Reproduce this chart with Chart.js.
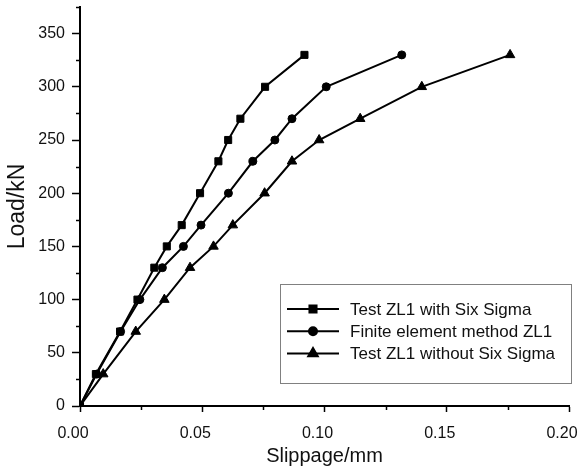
<!DOCTYPE html>
<html>
<head>
<meta charset="utf-8">
<title>Load vs slippage</title>
<script src="https://cdn.jsdelivr.net/npm/chart.js@4.4.0/dist/chart.umd.min.js"></script>
<style>
    html, body { margin: 0; padding: 0; background: #fff; }
    #chart { display: block; }
</style>
</head>
<body>
<canvas id="chart" width="579" height="470"></canvas>
<script>
// load levels (kN), shared by the three curves
const loads = [0, 30, 70, 100, 130, 150, 170, 200, 230, 250, 270, 300, 330];

// slippage (mm)
const slipWithSixSigma = [0, 0.0065, 0.0164, 0.0235, 0.0304, 0.0355, 0.0416, 0.0491, 0.0566, 0.0606, 0.0656, 0.0757, 0.0918];
const slipFiniteElement = [0, 0.0068, 0.0166, 0.0245, 0.0337, 0.0423, 0.0495, 0.0607, 0.0707, 0.0797, 0.0867, 0.1007, 0.1316];
const slipWithoutSixSigma = [0, 0.0095, 0.0228, 0.0345, 0.0450, 0.0546, 0.0625, 0.0755, 0.0867, 0.0978, 0.1146, 0.1398, 0.1759];

const seriesNames = ["Test ZL1 with Six Sigma", "Finite element method ZL1", "Test ZL1 without Six Sigma"];

const xTickLabels = ["0.00", "0.05", "0.10", "0.15", "0.20"];
const yTickLabels = ["0", "50", "100", "150", "200", "250", "300", "350"];

const FONT = "'Liberation Sans', Arial, sans-serif";
const INK = "#111";

function toPoints(xs, ys) {
    let pts = [];
    for (let i = 0; i < xs.length; i++)
        pts.push({ x: xs[i], y: ys[i] });
    return pts;
}

function makeSet(label, xs, style, radius) {
    return {
        label: label,
        data: toPoints(xs, loads),
        showLine: true,
        borderColor: "#000",
        borderWidth: 2,
        backgroundColor: "#000",
        pointStyle: style,
        pointRadius: radius,
        pointBorderWidth: 1,
        pointBackgroundColor: "#000",
        pointBorderColor: "#000",
        tension: 0
    };
}

// short minor ticks between the labelled ones
const minorTicks = {
    id: "minorTicks",
    afterDraw(chart) {
        const ctx = chart.ctx;
        ctx.save();
        ctx.strokeStyle = "#000";
        ctx.lineWidth = 1.5;
        const xs = chart.scales.x;
        xs.ticks.forEach((t) => {
            if (Math.round(t.value / 0.025) % 2 === 0) return;
            const px = Math.round(xs.getPixelForValue(t.value)) + 0.5;
            ctx.beginPath();
            ctx.moveTo(px, chart.chartArea.bottom);
            ctx.lineTo(px, chart.chartArea.bottom + 4);
            ctx.stroke();
        });
        const ys = chart.scales.y;
        ys.ticks.forEach((t) => {
            if (Math.round(t.value) % 50 === 0) return;
            const py = Math.round(ys.getPixelForValue(t.value)) + 0.5;
            ctx.beginPath();
            ctx.moveTo(chart.chartArea.left, py);
            ctx.lineTo(chart.chartArea.left - 4, py);
            ctx.stroke();
        });
        ctx.restore();
    }
};

// boxed legend in the lower right, line with marker in the middle
const boxLegend = {
    id: "boxLegend",
    afterDraw(chart) {
        const ctx = chart.ctx;
        const box = { left: 280, top: 284, right: 571, bottom: 383 };
        ctx.save();
        ctx.fillStyle = "#fff";
        ctx.fillRect(box.left, box.top, box.right - box.left, box.bottom - box.top);
        ctx.strokeStyle = "#808080";
        ctx.lineWidth = 1;
        ctx.strokeRect(box.left + 0.5, box.top + 0.5, box.right - box.left, box.bottom - box.top);

        ctx.font = "17px " + FONT;
        ctx.textBaseline = "middle";
        ctx.textAlign = "left";

        chart.data.datasets.forEach((ds, i) => {
            const y = 309 + i * 22.2;
            ctx.strokeStyle = "#000";
            ctx.lineWidth = 2;
            ctx.beginPath();
            ctx.moveTo(287, y);
            ctx.lineTo(339, y);
            ctx.stroke();

            ctx.fillStyle = "#000";
            Chart.helpers.drawPoint(ctx, {
                pointStyle: ds.pointStyle,
                radius: ds.pointRadius,
                borderWidth: 1,
                rotation: 0
            }, 313, y);

            ctx.fillStyle = INK;
            ctx.fillText(ds.label, 350, y + 1);
        });
        ctx.restore();
    }
};

new Chart(document.getElementById("chart"), {
    type: "scatter",
    data: {
        datasets: [
            makeSet(seriesNames[0], slipWithSixSigma, "rect", 5),
            makeSet(seriesNames[1], slipFiniteElement, "circle", 4),
            makeSet(seriesNames[2], slipWithoutSixSigma, "triangle", 5.5)
        ]
    },
    options: {
        responsive: false,
        animation: false,
        layout: { padding: { top: 7, right: 10, left: 0, bottom: 0 } },
        plugins: {
            legend: { display: false },
            tooltip: { enabled: false }
        },
        scales: {
            x: {
                type: "linear",
                min: 0,
                max: 0.2,
                afterFit(scale) {
                    scale.height = 64;
                    scale.paddingLeft = 0;
                    scale.paddingRight = 0;
                },
                border: { display: true, color: "#000", width: 2 },
                grid: {
                    drawOnChartArea: false,
                    tickLength: 6,
                    tickWidth: 1.5,
                    tickColor: (c) => (c.tick && Math.round(c.tick.value / 0.025) % 2 === 0) ? "#000" : "rgba(0,0,0,0)"
                },
                ticks: {
                    stepSize: 0.025,
                    includeBounds: false,
                    autoSkip: false,
                    maxRotation: 0,
                    padding: 12,
                    labelOffset: -7,
                    color: INK,
                    font: { family: FONT, size: 16 },
                    callback: (v) => {
                        const k = Math.round(v / 0.025);
                        return k % 2 === 0 ? xTickLabels[k / 2] : "";
                    }
                },
                title: {
                    display: true,
                    text: "Slippage/mm",
                    color: INK,
                    font: { family: FONT, size: 20 },
                    padding: { top: 2, bottom: 2 }
                }
            },
            y: {
                type: "linear",
                min: 0,
                max: 375,
                afterFit(scale) {
                    scale.width = 80;
                    scale.paddingTop = 0;
                    scale.paddingBottom = 0;
                },
                border: { display: true, color: "#000", width: 2 },
                grid: {
                    drawOnChartArea: false,
                    tickLength: 8,
                    tickWidth: 1.5,
                    tickColor: (c) => (c.tick && Math.round(c.tick.value) % 50 === 0) ? "#000" : "rgba(0,0,0,0)"
                },
                ticks: {
                    stepSize: 25,
                    includeBounds: false,
                    autoSkip: false,
                    padding: 7,
                    color: INK,
                    font: { family: FONT, size: 16 },
                    callback: (v) => Math.round(v) % 50 === 0 ? yTickLabels[Math.round(v) / 50] : ""
                },
                title: {
                    display: true,
                    text: "Load/kN",
                    color: INK,
                    font: { family: FONT, size: 23 },
                    padding: { top: 4, bottom: 0 }
                }
            }
        }
    },
    plugins: [minorTicks, boxLegend]
});
</script>
</body>
</html>
